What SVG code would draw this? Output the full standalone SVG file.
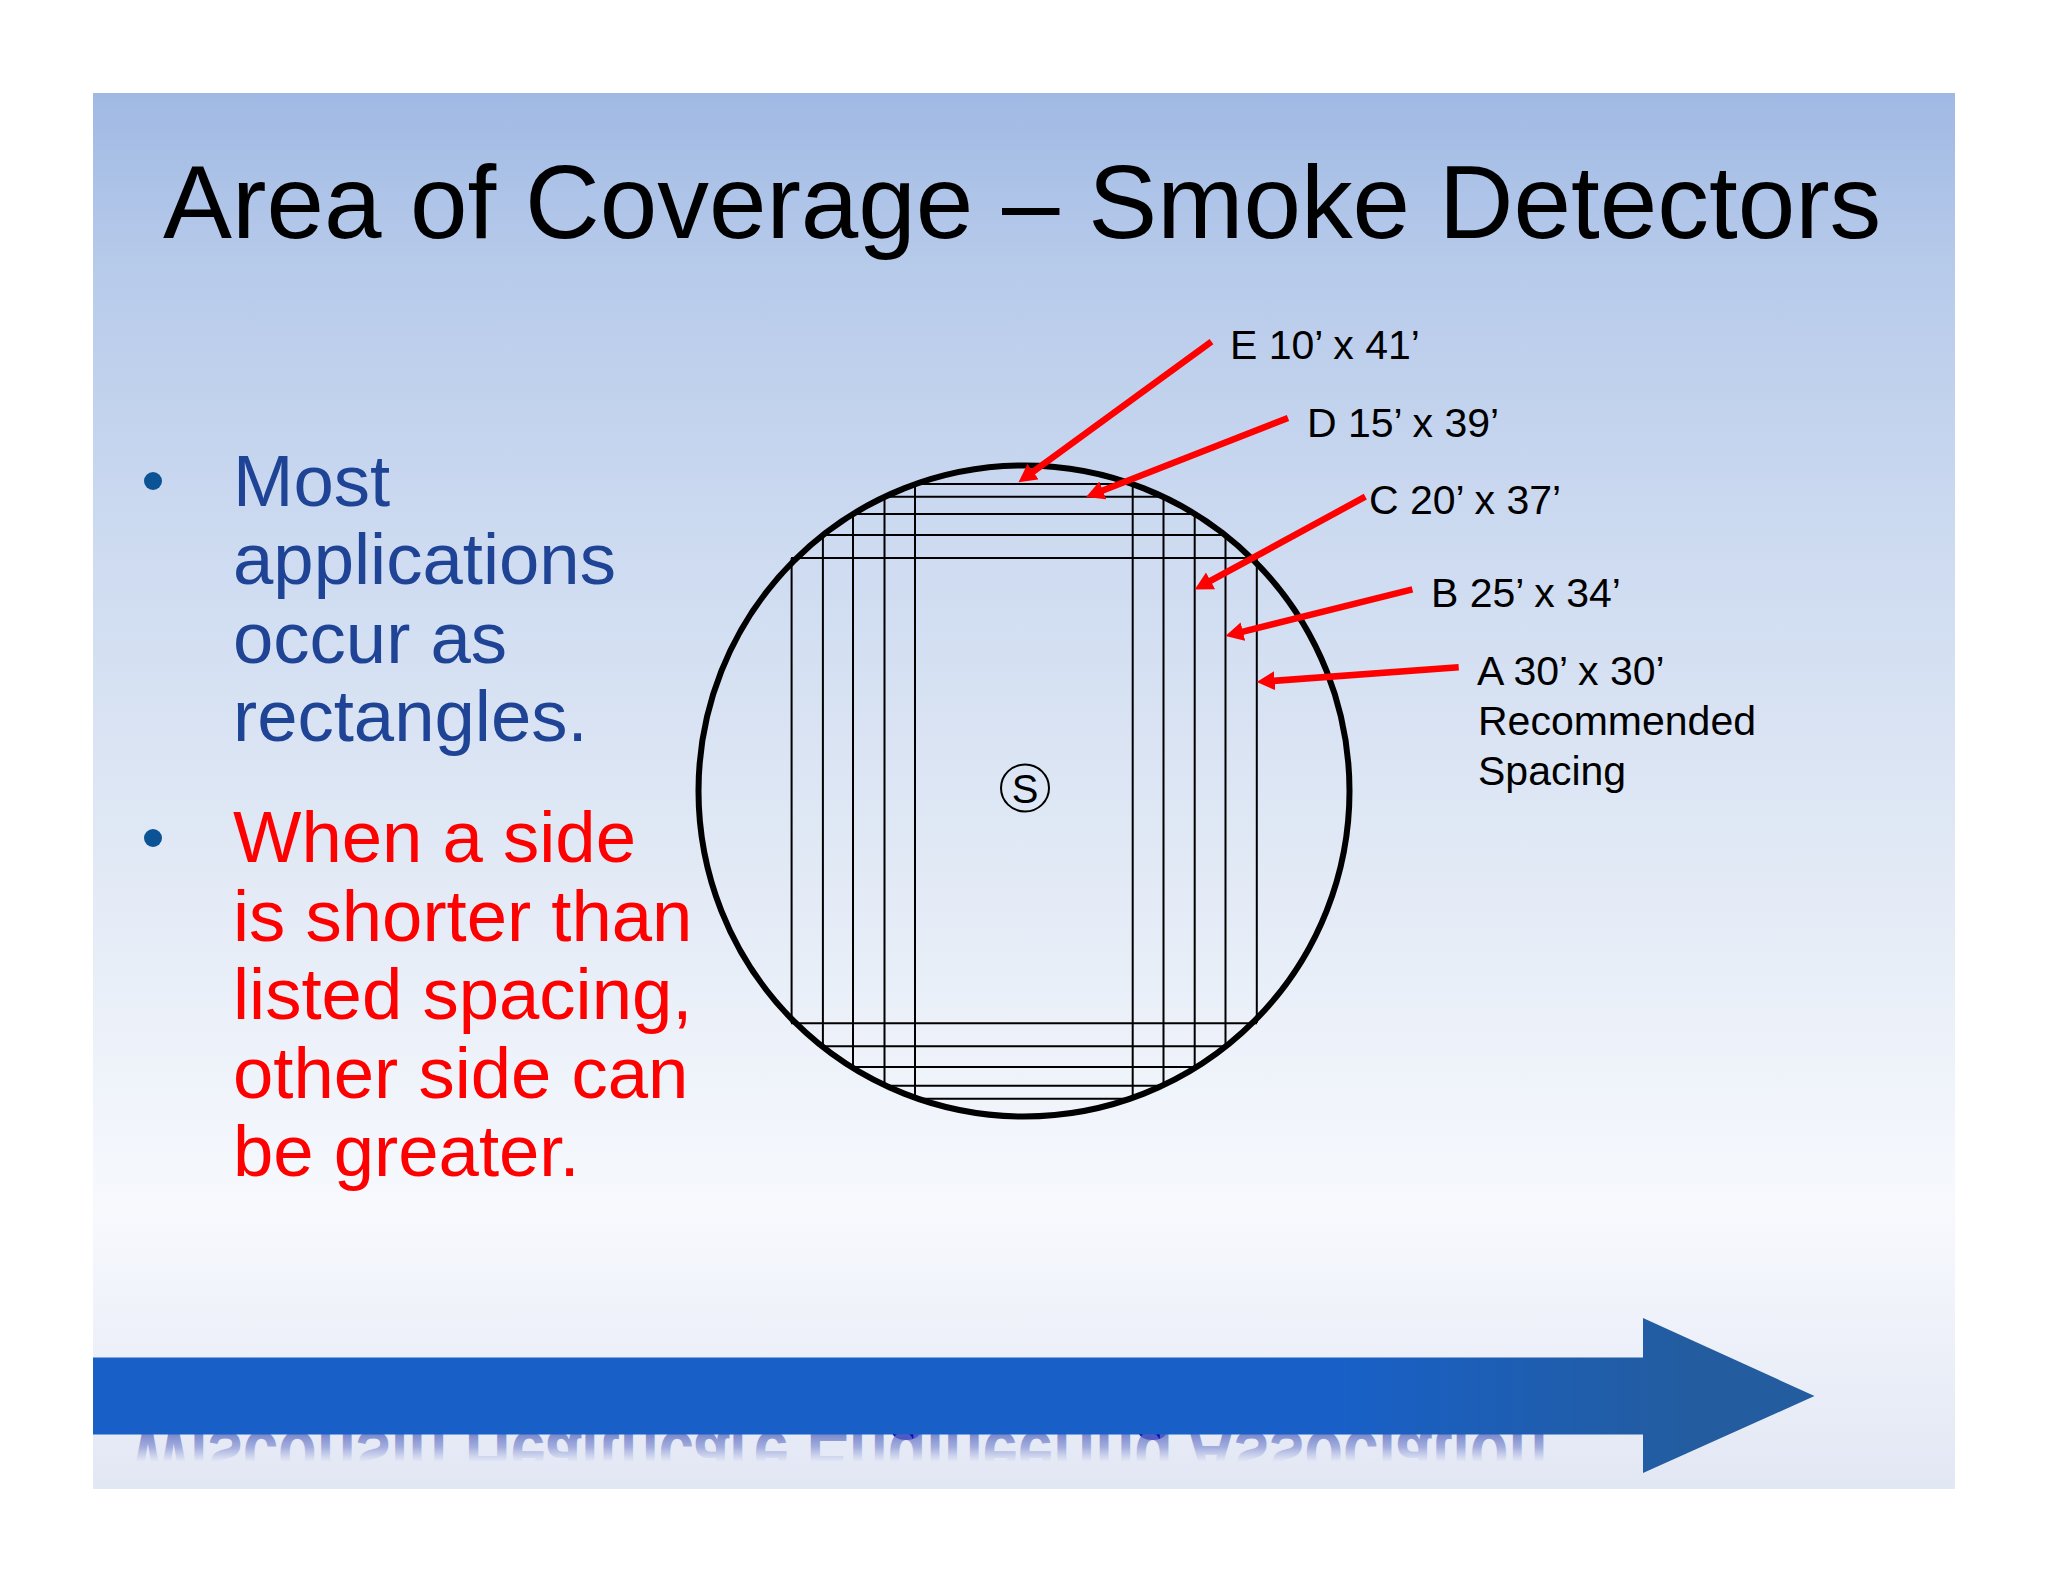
<svg xmlns="http://www.w3.org/2000/svg" width="2048" height="1582" viewBox="0 0 2048 1582">
<style>
text{font-family:"Liberation Sans",Arial,sans-serif}
.lbl{font-size:41px;fill:#000}
.body{font-size:72.5px}
.blue{fill:#1f4496}
.red{fill:#ff0000}
.bul{fill:#0b5394}
.grid line{stroke:#000;stroke-width:2}
.ptr line{stroke:#ff0000;stroke-width:6.5;marker-end:url(#head)}
</style>
<defs>
<linearGradient id="bg" gradientUnits="userSpaceOnUse" x1="0" y1="93" x2="0" y2="1489">
<stop offset="0" stop-color="#a0b9e4"/><stop offset="0.12" stop-color="#b6caea"/><stop offset="0.3" stop-color="#cbd9f0"/><stop offset="0.5" stop-color="#dde6f4"/><stop offset="0.8" stop-color="#f7f9fd"/><stop offset="1" stop-color="#e2e7f4"/>
</linearGradient>
<linearGradient id="bar" gradientUnits="userSpaceOnUse" x1="93" y1="0" x2="1814" y2="0">
<stop offset="0" stop-color="#1860c8"/><stop offset="0.72" stop-color="#1860c8"/><stop offset="0.93" stop-color="#235c9f"/><stop offset="1" stop-color="#235c9f"/>
</linearGradient>
<linearGradient id="fade" gradientUnits="userSpaceOnUse" x1="0" y1="1425" x2="0" y2="1402">
<stop offset="0" stop-color="#6070c0" stop-opacity="0.85"/><stop offset="0.5" stop-color="#7482cc" stop-opacity="0.6"/><stop offset="1" stop-color="#8a96d8" stop-opacity="0"/>
</linearGradient>
<marker id="head" markerUnits="userSpaceOnUse" markerWidth="20" markerHeight="20" refX="7" refY="9.5" orient="auto">
<path d="M0 0L18 9.5L0 19Z" fill="#ff0000"/>
</marker>
</defs>
<rect width="2048" height="1582" fill="#fff"/>
<rect id="slide" x="93" y="93" width="1862" height="1396" fill="url(#bg)"/>
<g id="footer">
<text x="839" y="1427" font-size="63.4" font-weight="bold" fill="#0000c0" text-anchor="middle">Wisconsin Healthcare Engineering Association</text>
<text transform="translate(0 3284.5) scale(1 -1.3)" x="839" y="1425" font-size="63.4" font-weight="bold" fill="url(#fade)" text-anchor="middle">Wisconsin Healthcare Engineering Association</text>
<path id="bar-arrow" d="M93 1357.5H1643V1318L1814.5 1396L1643 1473V1434.5H93Z" fill="url(#bar)"/>
</g>
<text id="title" x="163" y="238" font-size="103.4" fill="#000">Area of Coverage – Smoke Detectors</text>
<g id="bullets">
<circle class="bul" cx="153" cy="481" r="9"/>
<text class="body blue"><tspan x="233" y="506">Most</tspan><tspan x="233" y="584">applications</tspan><tspan x="233" y="663">occur as</tspan><tspan x="233" y="741">rectangles.</tspan></text>
<circle class="bul" cx="153" cy="838" r="9"/>
<text class="body red"><tspan x="233" y="862">When a side</tspan><tspan x="233" y="941">is shorter than</tspan><tspan x="233" y="1019">listed spacing,</tspan><tspan x="233" y="1098">other side can</tspan><tspan x="233" y="1176">be greater.</tspan></text>
</g>
<g id="coverage-circle"><ellipse cx="1024" cy="791" rx="325.5" ry="325.5" fill="none" stroke="#000" stroke-width="6"/></g>
<g id="spacing-grid" class="grid">
<line x1="791.6" y1="558" x2="791.6" y2="1023"/><line x1="822.9" y1="535" x2="822.9" y2="1046"/><line x1="853" y1="514" x2="853" y2="1067"/><line x1="884.5" y1="497" x2="884.5" y2="1086"/><line x1="915" y1="484" x2="915" y2="1099"/>
<line x1="1132.7" y1="484" x2="1132.7" y2="1099"/><line x1="1163.5" y1="497" x2="1163.5" y2="1086"/><line x1="1194.7" y1="514" x2="1194.7" y2="1067"/><line x1="1225.5" y1="535" x2="1225.5" y2="1046"/><line x1="1256.8" y1="558" x2="1256.8" y2="1023"/>
<line x1="915" y1="484" x2="1133" y2="484"/><line x1="885" y1="496.7" x2="1164" y2="496.7"/><line x1="853" y1="514" x2="1195" y2="514"/><line x1="823" y1="535" x2="1226" y2="535"/><line x1="791" y1="558" x2="1257" y2="558"/>
<line x1="791" y1="1023.3" x2="1257" y2="1023.3"/><line x1="823" y1="1046.3" x2="1226" y2="1046.3"/><line x1="853" y1="1067" x2="1195" y2="1067"/><line x1="885" y1="1085.7" x2="1164" y2="1085.7"/><line x1="915" y1="1098.7" x2="1133" y2="1098.7"/>
</g>
<g id="detector">
<ellipse cx="1025" cy="788" rx="24" ry="23.5" fill="none" stroke="#000" stroke-width="2"/>
<text x="1025" y="803" font-size="40" text-anchor="middle" fill="#000">S</text>
</g>
<g id="connectors" class="ptr">
<line x1="1211.5" y1="341.7" x2="1027.4" y2="475.8"/>
<line x1="1288" y1="418" x2="1096.3" y2="493"/>
<line x1="1365.3" y1="496.7" x2="1204.4" y2="584.2"/>
<line x1="1412.4" y1="589.3" x2="1236.1" y2="633.3"/>
<line x1="1458.7" y1="667.3" x2="1267.7" y2="681.3"/>
</g>
<g id="label-e"><text class="lbl" x="1230" y="359">E 10’ x 41’</text></g>
<g id="label-d"><text class="lbl" x="1307" y="437">D 15’ x 39’</text></g>
<g id="label-c"><text class="lbl" x="1369" y="514">C 20’ x 37’</text></g>
<g id="label-b"><text class="lbl" x="1431" y="607">B 25’ x 34’</text></g>
<g id="label-a"><text class="lbl"><tspan x="1477" y="685">A 30’ x 30’</tspan><tspan x="1478" y="735">Recommended</tspan><tspan x="1478" y="785">Spacing</tspan></text></g>
</svg>
